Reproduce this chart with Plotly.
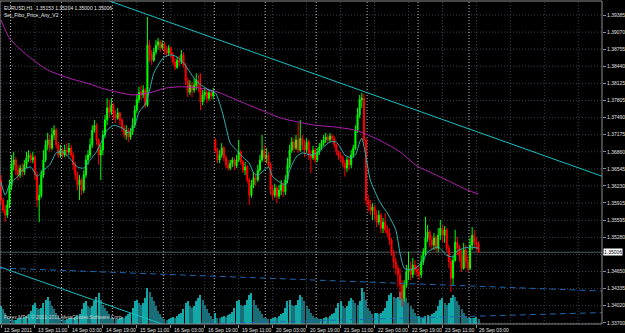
import plotly.graph_objects as go

# ---------------- data (EURUSD H1, bar 0 = 12 Sep 2011 19:00) ----------------
n_bars = 226
bar_index = list(range(n_bars))

opens = [
    1.3634,1.3597,1.3578,1.3569,1.3588,1.3625,1.3662,1.3671,1.3652,1.3643,
    1.3656,1.3649,1.3662,1.3675,1.3680,1.3671,1.3676,1.3643,1.3597,1.3606,
    1.3643,1.3671,1.3699,1.3708,1.3693,1.3717,1.3726,1.3699,1.3680,1.3689,
    1.3680,1.3689,1.3686,1.3693,1.3680,1.3662,1.3643,1.3625,1.3634,1.3615,
    1.3643,1.3671,1.3680,1.3699,1.3726,1.3735,1.3708,1.3680,1.3689,1.3717,
    1.3745,1.3767,1.3759,1.3772,1.3754,1.3748,1.3758,1.3745,1.3730,1.3717,
    1.3726,1.3713,1.3723,1.3735,1.3763,1.3782,1.3796,1.3791,1.3800,1.3772,
    1.3883,1.3865,1.3855,1.3870,1.3883,1.3889,1.3878,1.3885,1.3874,1.3868,
    1.3878,1.3865,1.3852,1.3842,1.3855,1.3852,1.3865,1.3846,1.3818,1.3796,
    1.3809,1.3800,1.3809,1.3818,1.3804,1.3778,1.3791,1.3796,1.3785,1.3795,
    1.3789,1.3708,1.3689,1.3671,1.3680,1.3693,1.3675,1.3662,1.3656,1.3665,
    1.3671,1.3660,1.3671,1.3686,1.3667,1.3652,1.3658,1.3634,1.3606,1.3625,
    1.3638,1.3634,1.3652,1.3671,1.3689,1.3675,1.3680,1.3662,1.3615,1.3606,
    1.3619,1.3604,1.3615,1.3625,1.3612,1.3634,1.3662,1.3689,1.3704,1.3693,
    1.3708,1.3689,1.3711,1.3699,1.3689,1.3704,1.3680,1.3675,1.3689,1.3671,
    1.3686,1.3695,1.3702,1.3708,1.3713,1.3708,1.3715,1.3711,1.3699,1.3686,
    1.3678,1.3675,1.3665,1.3656,1.3671,1.3662,1.3680,1.3693,1.3726,1.3754,
    1.3782,1.3785,1.3708,1.3597,1.3588,1.3578,1.3584,1.3569,1.3556,1.3569,
    1.3545,1.3556,1.3542,1.3536,1.3523,1.3501,1.3483,1.3471,1.3459,1.3440,
    1.3416,1.3440,1.3464,1.3471,1.3459,1.3477,1.3468,1.3464,1.3459,1.3483,
    1.3501,1.3527,1.3538,1.3523,1.3514,1.3527,1.3508,1.3532,1.3545,1.3532,
    1.3542,1.3508,1.3483,1.3453,1.3486,1.3519,1.3508,1.3495,1.3471,1.3505,
    1.3483,1.3471,1.3514,1.3532,1.3519,1.35153]

highs = [
    1.3643,1.3601,1.3588,1.3597,1.3634,1.3680,1.3686,1.3676,1.3662,1.3662,
    1.3665,1.3671,1.3686,1.3689,1.3684,1.3686,1.3680,1.3649,1.3625,1.3652,
    1.3689,1.3708,1.3721,1.3717,1.3730,1.3735,1.3730,1.3704,1.3699,1.3693,
    1.3699,1.3702,1.3702,1.3699,1.3686,1.3667,1.3649,1.3643,1.3638,1.3652,
    1.3680,1.3689,1.3711,1.3735,1.3745,1.3739,1.3711,1.3699,1.3726,1.3754,
    1.3785,1.3782,1.3785,1.3776,1.3763,1.3767,1.3759,1.3748,1.3735,1.3735,
    1.3730,1.3730,1.3748,1.3772,1.3791,1.3806,1.3809,1.3809,1.3804,1.3935,
    1.3892,1.3874,1.3878,1.3892,1.3896,1.3892,1.3892,1.3889,1.3881,1.3883,
    1.3881,1.3870,1.3859,1.3861,1.3863,1.3874,1.3870,1.3850,1.3822,1.3818,
    1.3815,1.3822,1.3831,1.3828,1.3831,1.3800,1.3804,1.3800,1.3800,1.3800,
    1.3804,1.3711,1.3693,1.3689,1.3702,1.3697,1.3680,1.3671,1.3671,1.3676,
    1.3675,1.3680,1.3708,1.3689,1.3671,1.3667,1.3662,1.3638,1.3634,1.3649,
    1.3645,1.3662,1.3680,1.3717,1.3699,1.3693,1.3686,1.3667,1.3625,1.3627,
    1.3623,1.3625,1.3634,1.3630,1.3643,1.3675,1.3699,1.3713,1.3711,1.3717,
    1.3739,1.3745,1.3717,1.3708,1.3711,1.3708,1.3689,1.3697,1.3693,1.3693,
    1.3702,1.3708,1.3717,1.3721,1.3717,1.3721,1.3719,1.3715,1.3702,1.3689,
    1.3686,1.3680,1.3671,1.3676,1.3676,1.3689,1.3699,1.3735,1.3767,1.3791,
    1.3795,1.3793,1.3711,1.3606,1.3597,1.3591,1.3588,1.3578,1.3578,1.3573,
    1.3564,1.3573,1.3551,1.3545,1.3527,1.3505,1.3490,1.3477,1.3471,1.3449,
    1.3449,1.3477,1.3501,1.3483,1.3490,1.3486,1.3477,1.3473,1.3495,1.3508,
    1.3566,1.3551,1.3542,1.3532,1.3536,1.3532,1.3545,1.3560,1.3551,1.3549,
    1.3545,1.3514,1.3490,1.3495,1.3542,1.3529,1.3514,1.3505,1.3518,1.3514,
    1.3495,1.3527,1.3547,1.3542,1.3527,1.35204]

lows = [
    1.3588,1.3573,1.3556,1.3564,1.3582,1.3615,1.3652,1.3643,1.3634,1.3638,
    1.3640,1.3643,1.3656,1.3667,1.3665,1.3665,1.3634,1.3584,1.3556,1.3601,
    1.3638,1.3667,1.3689,1.3686,1.3689,1.3708,1.3693,1.3675,1.3675,1.3675,
    1.3676,1.3678,1.3680,1.3675,1.3652,1.3634,1.3615,1.3597,1.3606,1.3610,
    1.3638,1.3662,1.3675,1.3693,1.3721,1.3699,1.3662,1.3634,1.3680,1.3711,
    1.3735,1.3748,1.3754,1.3745,1.3739,1.3745,1.3735,1.3723,1.3711,1.3708,
    1.3704,1.3708,1.3717,1.3730,1.3758,1.3776,1.3782,1.3785,1.3767,1.3769,
    1.3852,1.3846,1.3852,1.3865,1.3874,1.3870,1.3874,1.3865,1.3861,1.3863,
    1.3859,1.3846,1.3837,1.3839,1.3844,1.3848,1.3841,1.3809,1.3787,1.3791,
    1.3787,1.3795,1.3800,1.3796,1.3763,1.3772,1.3782,1.3776,1.3780,1.3782,
    1.3783,1.3684,1.3665,1.3665,1.3675,1.3669,1.3656,1.3651,1.3652,1.3658,
    1.3652,1.3656,1.3667,1.3662,1.3647,1.3643,1.3628,1.3588,1.3601,1.3619,
    1.3623,1.3630,1.3649,1.3667,1.3667,1.3665,1.3656,1.3606,1.3597,1.3601,
    1.3591,1.3599,1.3606,1.3603,1.3606,1.3628,1.3656,1.3684,1.3686,1.3689,
    1.3684,1.3686,1.3689,1.3676,1.3684,1.3671,1.3647,1.3671,1.3665,1.3667,
    1.3680,1.3689,1.3697,1.3702,1.3702,1.3704,1.3704,1.3693,1.3680,1.3671,
    1.3667,1.3658,1.3640,1.3649,1.3652,1.3656,1.3675,1.3689,1.3721,1.3748,
    1.3767,1.3699,1.3588,1.3575,1.3569,1.3560,1.3560,1.3547,1.3551,1.3536,
    1.3536,1.3536,1.3529,1.3514,1.3494,1.3471,1.3459,1.3436,1.3412,1.3400,
    1.3409,1.3435,1.3449,1.3449,1.3453,1.3459,1.3455,1.3449,1.3453,1.3477,
    1.3495,1.3519,1.3510,1.3505,1.3505,1.3501,1.3501,1.3523,1.3519,1.3518,
    1.3501,1.3471,1.3427,1.3440,1.3483,1.3495,1.3483,1.3464,1.3468,1.3471,
    1.3464,1.3468,1.3505,1.3508,1.3505,1.35000]

closes = [
    1.3597,1.3578,1.3569,1.3588,1.3625,1.3662,1.3671,1.3652,1.3643,1.3656,
    1.3649,1.3662,1.3675,1.3680,1.3671,1.3676,1.3643,1.3597,1.3606,1.3643,
    1.3671,1.3699,1.3708,1.3693,1.3717,1.3726,1.3699,1.3680,1.3689,1.3680,
    1.3689,1.3686,1.3693,1.3680,1.3662,1.3643,1.3625,1.3634,1.3615,1.3643,
    1.3671,1.3680,1.3699,1.3726,1.3735,1.3708,1.3680,1.3689,1.3717,1.3745,
    1.3767,1.3759,1.3772,1.3754,1.3748,1.3758,1.3745,1.3730,1.3717,1.3726,
    1.3713,1.3723,1.3735,1.3763,1.3782,1.3796,1.3791,1.3800,1.3772,1.3883,
    1.3865,1.3855,1.3870,1.3883,1.3889,1.3878,1.3885,1.3874,1.3868,1.3878,
    1.3865,1.3852,1.3842,1.3855,1.3852,1.3865,1.3846,1.3818,1.3796,1.3809,
    1.3800,1.3809,1.3818,1.3804,1.3778,1.3791,1.3796,1.3785,1.3795,1.3789,
    1.3796,1.3689,1.3671,1.3680,1.3693,1.3675,1.3662,1.3656,1.3665,1.3671,
    1.3660,1.3671,1.3686,1.3667,1.3652,1.3658,1.3634,1.3606,1.3625,1.3638,
    1.3634,1.3652,1.3671,1.3689,1.3675,1.3680,1.3662,1.3615,1.3606,1.3619,
    1.3604,1.3615,1.3625,1.3612,1.3634,1.3662,1.3689,1.3704,1.3693,1.3708,
    1.3689,1.3711,1.3699,1.3689,1.3704,1.3680,1.3675,1.3689,1.3671,1.3686,
    1.3695,1.3702,1.3708,1.3713,1.3708,1.3715,1.3711,1.3699,1.3686,1.3678,
    1.3675,1.3665,1.3656,1.3671,1.3662,1.3680,1.3693,1.3726,1.3754,1.3782,
    1.3785,1.3708,1.3597,1.3588,1.3578,1.3584,1.3569,1.3556,1.3569,1.3545,
    1.3556,1.3542,1.3536,1.3523,1.3501,1.3483,1.3471,1.3459,1.3440,1.3416,
    1.3440,1.3464,1.3471,1.3459,1.3477,1.3468,1.3464,1.3459,1.3483,1.3501,
    1.3527,1.3538,1.3523,1.3514,1.3527,1.3508,1.3532,1.3545,1.3532,1.3542,
    1.3508,1.3483,1.3453,1.3486,1.3519,1.3508,1.3495,1.3471,1.3505,1.3483,
    1.3471,1.3514,1.3532,1.3519,1.3515,1.35006]

volumes = [
    1100,900,700,500,400,
    300,250,250,350,400,350,450,500,600,800,1200,1300,1000,900,1000,1300,1500,1700,1400,1100,900,700,500,400,
    300,250,300,400,400,350,450,550,650,900,1300,1400,1100,1000,1100,1400,1700,1900,1500,1200,1000,800,600,400,
    350,300,300,400,450,400,500,600,700,1000,1400,1500,1300,1200,1300,1600,2200,2000,1700,1400,1100,800,600,450,
    300,250,300,400,450,400,500,600,700,900,1300,1400,1100,1000,1100,1400,1600,1800,1500,1200,900,700,500,300,
    700,400,350,450,500,450,550,650,750,1000,1400,1500,1200,1100,1200,1500,1800,1900,1500,1200,1000,800,600,400,
    350,300,300,400,450,400,500,600,700,1000,1400,1500,1200,1100,1200,1500,1800,1700,1400,1100,900,700,500,400,
    350,300,300,400,450,400,500,600,700,1000,1300,1400,1100,1000,1100,1400,1600,1500,1300,1200,1400,2200,2000,1500,
    1000,800,600,700,700,600,700,800,1000,1400,1800,1900,1700,1600,1700,2000,2100,2000,1600,1300,1100,900,700,500,
    500,400,400,500,550,500,600,700,800,1100,1500,1600,1300,1200,1300,1600,1800,1700,1400,1200,900,700,500,400,
    400,350,400,450,300]

fast_ma_bars = [0,2,4,8,10,14,17,20,23,26,29,32,36,39,42,45,47,50,53,57,60,63,65,68,70,72,75,77,80,83,
                86,89,91,93,98,101,104,106,108,111,114,117,119,121,124,126,128,132,134,136,139,142,146,149,
                152,155,158,160,162,165,167,169,170,172,174,178,180,182,186,188,190,193,196,199,201,206,210,
                213,215,218,221,225]
fast_ma_values = [1.3630,1.3606,1.3625,1.3641,1.3652,1.3658,1.3641,1.3652,1.3662,1.3684,1.3686,1.3676,1.3658,
                  1.3656,1.3671,1.3686,1.3702,1.3726,1.3735,1.3730,1.3721,1.3735,1.3759,1.3774,1.3800,1.3831,
                  1.3852,1.3861,1.3865,1.3861,1.3850,1.3833,1.3822,1.3813,1.3800,1.3795,1.3763,1.3732,1.3702,
                  1.3689,1.3676,1.3665,1.3647,1.3643,1.3652,1.3658,1.3640,1.3628,1.3625,1.3652,1.3676,1.3684,
                  1.3680,1.3684,1.3695,1.3704,1.3704,1.3693,1.3680,1.3675,1.3680,1.3704,1.3711,1.3676,1.3634,
                  1.3597,1.3584,1.3573,1.3542,1.3499,1.3471,1.3468,1.3473,1.3486,1.3501,1.3510,1.3495,1.3492,
                  1.3503,1.3508,1.3510,1.3508]

slow_ma_bars = [0,2,4,8,14,22,32,42,47,55,62,70,78,85,93,101,109,117,125,132,140,148,157,167,173,180,
                188,196,204,212,220,225]
slow_ma_values = [1.3929,1.3911,1.3896,1.3879,1.3859,1.3837,1.3822,1.3811,1.3804,1.3796,1.3791,1.3795,1.3804,
                  1.3806,1.3804,1.3798,1.3785,1.3772,1.3759,1.3748,1.3741,1.3735,1.3732,1.3726,1.3717,1.3704,
                  1.3686,1.3660,1.3645,1.3630,1.3615,1.3608]

upper_trend_bars = [70, 225]
upper_trend_prices = [1.39381, 1.37220]
lower_trend_bars = [0, 47]
lower_trend_prices = [1.34726, 1.34078]
fibo_upper_bars = [0, 225]
fibo_upper_prices = [1.34714, 1.34377]
fibo_lower_bars = [100, 225]
fibo_lower_prices = [1.33688, 1.33827]

bid_price = 1.35006
price_tick_values = [1.39385,1.39070,1.38755,1.38440,1.38125,1.37805,1.37490,1.37175,1.36860,1.36545,
                     1.36230,1.35915,1.35595,1.35280,1.34965,1.34650,1.34335,1.34020,1.33700]
price_tick_labels = ["1.39385","1.39070","1.38755","1.38440","1.38125","1.37805","1.37490","1.37175",
                     "1.36860","1.36545","1.36230","1.35915","1.35595","1.35280","","1.34650","1.34335",
                     "1.34020","1.33700"]
time_label_bars = [0,16,32,48,64,80,96,112,128,144,160,176,192,208,224]
time_label_texts = ["12 Sep 2011","13 Sep 11:00","14 Sep 03:00","14 Sep 19:00","15 Sep 11:00",
                    "16 Sep 03:00","16 Sep 19:00","19 Sep 11:00","20 Sep 03:00","20 Sep 19:00",
                    "21 Sep 11:00","22 Sep 03:00","22 Sep 19:00","23 Sep 11:00","26 Sep 03:00"]
grid_bars = list(range(0, 284, 16))
day_separator_bars = [5,29,53,77,101,125,149,173,197,221]

# ---------------- layout constants ----------------
X_MIN, X_MAX = -0.47, 283.17
P_MIN, P_MAX = 1.33681, 1.39644
VOL_MAX = 20000
FONT = "Liberation Sans, Arial, sans-serif"


def extend(bars, prices):
    slope = (prices[1] - prices[0]) / (bars[1] - bars[0])
    return ([X_MIN, X_MAX],
            [prices[0] + slope * (X_MIN - bars[0]), prices[0] + slope * (X_MAX - bars[0])])


vol_colors = []
for k, v in enumerate(volumes):
    vol_colors.append("#13a8a8" if (k == 0 or v >= volumes[k - 1]) else "#1a6e78")

fig = go.Figure()

fig.add_trace(go.Bar(x=bar_index, y=volumes, yaxis="y", marker=dict(color=vol_colors, line=dict(width=0)),
                     width=0.5, hoverinfo="skip", showlegend=False))

fig.add_trace(go.Candlestick(
    x=bar_index, open=opens, high=highs, low=lows, close=closes, yaxis="y2",
    increasing=dict(line=dict(color="#00ff00", width=1), fillcolor="#00ff00"),
    decreasing=dict(line=dict(color="#ff0000", width=1), fillcolor="#ff0000"),
    whiskerwidth=0, hoverinfo="skip", showlegend=False))

fig.add_trace(go.Scatter(x=slow_ma_bars, y=slow_ma_values, yaxis="y2", mode="lines",
                         line=dict(color="#b420b4", width=1, shape="spline", smoothing=0.6),
                         hoverinfo="skip", showlegend=False))
fig.add_trace(go.Scatter(x=fast_ma_bars, y=fast_ma_values, yaxis="y2", mode="lines",
                         line=dict(color="#2ab4b4", width=1, shape="spline", smoothing=0.6),
                         hoverinfo="skip", showlegend=False))

for bars, prices, color, dash in [
    (upper_trend_bars, upper_trend_prices, "#16c0c0", "solid"),
    (lower_trend_bars, lower_trend_prices, "#16c0c0", "solid"),
    (fibo_upper_bars, fibo_upper_prices, "#1f66b0", "6px,4px"),
    (fibo_lower_bars, fibo_lower_prices, "#1f66b0", "6px,4px"),
]:
    xs, ys = extend(bars, prices)
    fig.add_trace(go.Scatter(x=xs, y=ys, yaxis="y2", mode="lines",
                             line=dict(color=color, width=1, dash=dash),
                             hoverinfo="skip", showlegend=False))

shapes = []
for p in price_tick_values:
    shapes.append(dict(type="line", xref="paper", yref="y2", x0=0, x1=1, y0=p, y1=p, layer="below",
                       line=dict(color="#36414c", width=1, dash="1px,2px")))
for b in grid_bars:
    shapes.append(dict(type="line", xref="x", yref="paper", x0=b, x1=b, y0=0, y1=1, layer="below",
                       line=dict(color="#36414c", width=1, dash="1px,2px")))
for b in day_separator_bars:
    shapes.append(dict(type="line", xref="x", yref="paper", x0=b - 0.5, x1=b - 0.5, y0=0, y1=1,
                       layer="below", line=dict(color="#bdbdbd", width=1, dash="1px,2px")))
shapes.append(dict(type="line", xref="paper", yref="y2", x0=0, x1=1, y0=bid_price, y1=bid_price,
                   layer="below", line=dict(color="#4e5e60", width=1)))
shapes.append(dict(type="rect", xref="paper", yref="paper", x0=0, x1=1, y0=0, y1=1, layer="above",
                   line=dict(color="#8c8c8c", width=1)))

annotations = []
for b, t in zip(time_label_bars, time_label_texts):
    annotations.append(dict(x=b, y=0, xref="x", yref="paper", text=t, showarrow=False,
                            xanchor="left", yanchor="top", xshift=1, yshift=-1,
                            font=dict(family=FONT, size=5, color="#e0e0e0")))
annotations.append(dict(x=0, y=1, xref="paper", yref="paper", xanchor="left", yanchor="top",
                        xshift=2, yshift=-2, showarrow=False,
                        text="EURUSD,H1  1.35153 1.35204 1.35000 1.35006",
                        font=dict(family=FONT, size=5, color="#e6e6e6")))
annotations.append(dict(x=0, y=1, xref="paper", yref="paper", xanchor="left", yanchor="top",
                        xshift=2, yshift=-9, showarrow=False, text="Set_Fibo_Price_Any_V2",
                        font=dict(family=FONT, size=5, color="#e6e6e6")))
annotations.append(dict(x=0, y=0, xref="paper", yref="paper", xanchor="left", yanchor="bottom",
                        xshift=2, yshift=2, showarrow=False,
                        text="Forex MT4, \u00a9 2001-2011 MetaQuotes Software Corp.",
                        font=dict(family=FONT, size=5, color="#d0d0d0")))
annotations.append(dict(x=1, y=bid_price, xref="paper", yref="y2", xanchor="left", yanchor="middle",
                        xshift=1, showarrow=False, text="1.35006", bgcolor="#ffffff", borderpad=0,
                        font=dict(family=FONT, size=5, color="#000000")))

fig.update_layout(
    width=625, height=333,
    margin=dict(l=0, r=20, t=1, b=9),
    paper_bgcolor="#000000", plot_bgcolor="#000000",
    showlegend=False,
    xaxis=dict(range=[X_MIN, X_MAX], showgrid=False, zeroline=False, showticklabels=False,
               tickvals=time_label_bars, ticks="outside", ticklen=3, tickcolor="#8c8c8c",
               rangeslider=dict(visible=False), fixedrange=True),
    yaxis=dict(range=[0, VOL_MAX], visible=False, showgrid=False, zeroline=False, fixedrange=True),
    yaxis2=dict(range=[P_MIN, P_MAX], overlaying="y", side="right", anchor="x",
                showgrid=False, zeroline=False, tickvals=price_tick_values, ticktext=price_tick_labels,
                ticks="outside", ticklen=3, tickcolor="#8c8c8c",
                tickfont=dict(family=FONT, size=5, color="#e0e0e0"), fixedrange=True),
    shapes=shapes, annotations=annotations,
    bargap=0,
)

fig.write_html("out.html")
